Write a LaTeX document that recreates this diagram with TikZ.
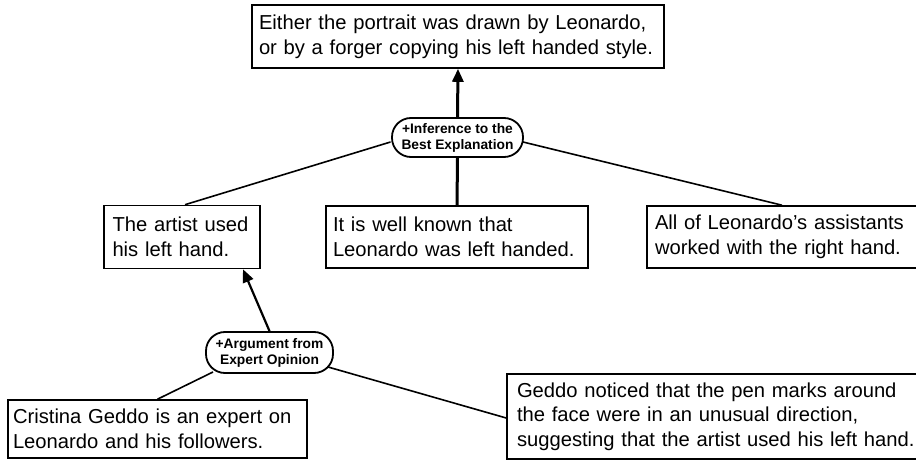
\documentclass[tikz,border=0pt]{standalone}
\usepackage{fontspec}
\setmainfont{Liberation Sans}
\usetikzlibrary{arrows.meta,calc}
\newcommand\oneline[1]{\mbox{#1}}
\begin{document}
\begin{tikzpicture}[x=1pt,y=-1pt,
  claim/.style={draw,line width=1.6pt,rectangle,inner xsep=7.5pt,inner ysep=0pt,align=left,font=\fontsize{20.2}{24.6}\selectfont},
  scheme/.style={draw,line width=1.8pt,rectangle,rounded corners=19pt,align=center,font=\fontsize{13.8}{16}\selectfont\bfseries,inner sep=0pt},
  link/.style={line width=1.6pt},
  support/.style={line width=3pt,-{Triangle[length=13pt,width=11pt]}},
]
\useasboundingbox[fill=white] (0,0) rectangle (916,462);

\node[claim,text width=398pt,inner xsep=7pt,minimum height=63pt] (top) at (458,36.5)
  {\oneline{Either the portrait was drawn by Leonardo,}\\\oneline{or by a forger copying his left handed style.}};
\node[scheme,minimum width=131pt,minimum height=39pt] (inf) at (457.5,137.5)
  {+Inference to the\\Best Explanation};
\node[claim,text width=139pt,inner xsep=8.5pt,minimum height=63pt] (artist) at (182,237)
  {\oneline{The artist used}\\\oneline{his left hand.}};
\node[claim,text width=248pt,inner xsep=7pt,minimum height=62pt] (mid) at (457,237)
  {\oneline{It is well known that}\\\oneline{Leonardo was left handed.}};
\node[claim,text width=257pt,inner xsep=8pt,minimum height=62pt] (right) at (783.5,237)
  {\oneline{All of Leonardo’s assistants}\\\oneline{worked with the right hand.}};
\node[scheme,minimum width=127pt,minimum height=41pt] (arg) at (269.5,352.5)
  {+Argument from\\Expert Opinion};
\node[claim,text width=289pt,inner xsep=5pt,minimum height=58pt] (cristina) at (157.5,429)
  {\oneline{Cristina Geddo is an expert on}\\\oneline{Leonardo and his followers.}};
\node[claim,text width=403pt,inner xsep=10pt,minimum height=85pt] (geddo) at (718.5,416.5)
  {\oneline{Geddo noticed that the pen marks around}\\\oneline{the face were in an unusual direction,}\\\oneline{suggesting that the artist used his left hand.}};

\draw[support] (inf.north) -- (top.south);
\draw[link,line width=3pt] (inf.south) -- (mid.north);
\draw[link] ($(inf.center)+(-67,4.5)$) -- ($(artist.north)+(3,0)$);
\draw[link] ($(inf.center)+(65.5,4.5)$) -- ($(right.north)+(-1.5,0)$);
\draw[support,line width=2.2pt] (arg.north) -- ($(artist.south)+(61,0)$);
\draw[link] ($(arg.center)+(-56.5,19.5)$) -- (cristina.north);
\draw[link] ($(arg.center)+(58.5,14.5)$) -- ($(geddo.west)+(0,1.5)$);
\end{tikzpicture}
\end{document}
